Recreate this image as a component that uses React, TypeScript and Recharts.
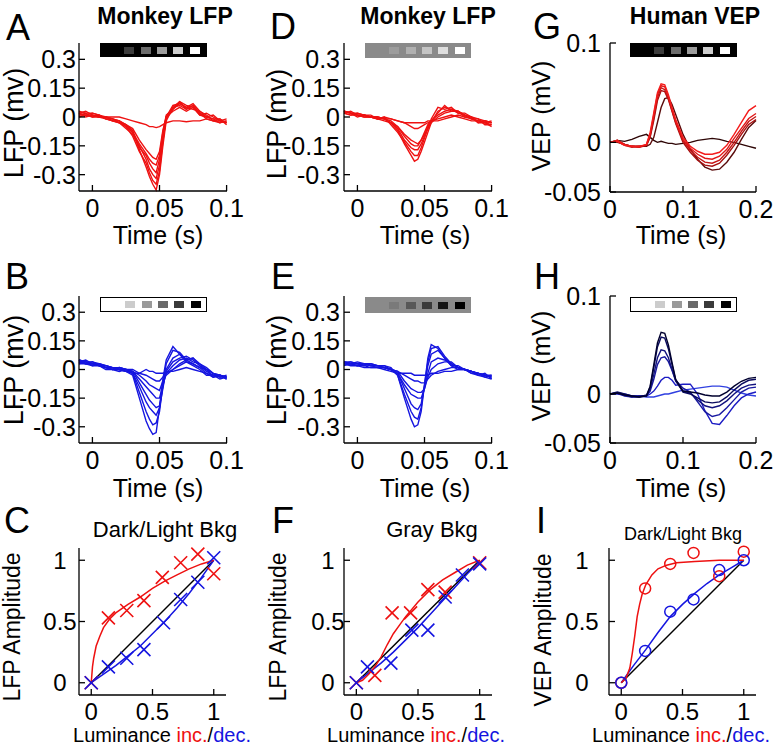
import React from 'react';
import { LineChart, ComposedChart, Line, Scatter, XAxis, YAxis } from 'recharts';

const FONT = '"Liberation Sans", Arial, Helvetica, sans-serif';

// ---------- LFP time base (s) ----------
const lfpTime = [-0.01, -0.005, 0, 0.005, 0.01, 0.015, 0.02, 0.025, 0.03, 0.035, 0.04, 0.0425, 0.045, 0.0475, 0.05, 0.0525, 0.055, 0.06, 0.065, 0.07, 0.075, 0.08, 0.085, 0.09, 0.095, 0.1];

// Panel A (red, dark/light bkg)
const a1 = [0.03, 0.02, 0.02, 0.01, 0.0, -0.01, -0.02, -0.04, -0.08, -0.17, -0.26, -0.31, -0.35, -0.38, -0.3, -0.15, -0.02, 0.05, 0.08, 0.04, 0.06, 0.02, 0.0, -0.01, -0.03, -0.02];
const a2 = [0.02, 0.03, 0.01, 0.0, 0.0, -0.01, -0.03, -0.05, -0.1, -0.18, -0.24, -0.29, -0.33, -0.35, -0.28, -0.13, 0.0, 0.06, 0.07, 0.05, 0.07, 0.03, 0.01, -0.02, -0.01, -0.03];
const a3 = [0.01, 0.01, 0.02, 0.01, -0.01, -0.02, -0.03, -0.06, -0.09, -0.15, -0.22, -0.27, -0.3, -0.32, -0.25, -0.12, -0.01, 0.04, 0.08, 0.06, 0.05, 0.01, 0.02, 0.0, -0.02, -0.01];
const a4 = [0.02, 0.0, 0.01, 0.0, 0.0, -0.02, -0.02, -0.04, -0.07, -0.16, -0.2, -0.24, -0.27, -0.29, -0.22, -0.1, 0.0, 0.05, 0.06, 0.04, 0.06, 0.02, -0.01, -0.02, -0.03, -0.02];
const a5 = [0.0, 0.01, 0.0, 0.01, -0.01, -0.01, -0.02, -0.05, -0.08, -0.14, -0.19, -0.22, -0.24, -0.25, -0.2, -0.08, 0.01, 0.04, 0.07, 0.05, 0.04, 0.03, 0.0, 0.01, -0.02, -0.03];
const a6 = [0.01, 0.02, 0.0, 0.0, -0.01, -0.02, -0.03, -0.04, -0.06, -0.12, -0.17, -0.19, -0.21, -0.22, -0.18, -0.07, 0.0, 0.03, 0.05, 0.03, 0.05, 0.01, 0.0, -0.01, -0.01, -0.04];
const a7 = [0.02, 0.01, 0.01, 0.0, 0.0, 0.0, 0.0, -0.01, -0.02, -0.03, -0.04, -0.05, -0.05, -0.055, -0.05, -0.04, -0.03, -0.02, -0.02, -0.025, -0.02, -0.02, -0.01, -0.02, -0.02, -0.03];

// Panel B (blue, dark/light bkg)
const b1 = [0.05, 0.04, 0.04, 0.03, 0.02, 0.01, 0.0, -0.01, -0.03, -0.15, -0.27, -0.31, -0.34, -0.33, -0.2, -0.05, 0.05, 0.12, 0.08, 0.04, 0.02, 0.0, -0.03, -0.03, -0.04, -0.04];
const b2 = [0.04, 0.05, 0.03, 0.03, 0.02, 0.01, 0.01, 0.0, -0.02, -0.12, -0.22, -0.26, -0.29, -0.28, -0.22, -0.08, 0.03, 0.1, 0.09, 0.05, 0.03, 0.01, -0.02, -0.04, -0.03, -0.05];
const b3 = [0.05, 0.03, 0.04, 0.02, 0.01, 0.0, 0.01, 0.0, -0.02, -0.09, -0.17, -0.2, -0.22, -0.24, -0.2, -0.1, 0.0, 0.06, 0.08, 0.05, 0.06, 0.02, -0.01, -0.03, -0.05, -0.04];
const b4 = [0.03, 0.04, 0.03, 0.02, 0.02, 0.01, 0.0, 0.0, -0.01, -0.07, -0.13, -0.16, -0.18, -0.2, -0.19, -0.09, -0.01, 0.04, 0.06, 0.07, 0.05, 0.02, 0.0, -0.02, -0.03, -0.05];
const b5 = [0.04, 0.03, 0.03, 0.02, 0.01, 0.01, 0.0, -0.01, -0.01, -0.05, -0.09, -0.11, -0.13, -0.15, -0.15, -0.08, -0.02, 0.02, 0.05, 0.06, 0.04, 0.03, 0.0, -0.04, -0.03, -0.04];
const b6 = [0.05, 0.04, 0.02, 0.03, 0.01, 0.0, 0.01, 0.0, -0.01, -0.03, -0.06, -0.08, -0.09, -0.1, -0.11, -0.06, -0.03, 0.0, 0.03, 0.05, 0.06, 0.03, 0.01, -0.02, -0.04, -0.03];
const b7 = [0.03, 0.03, 0.02, 0.02, 0.01, 0.0, 0.0, -0.01, -0.02, -0.02, -0.03, -0.04, -0.05, -0.06, -0.06, -0.04, -0.02, 0.0, 0.02, 0.04, 0.03, 0.01, 0.0, -0.02, -0.03, -0.04];
const b8 = [0.04, 0.03, 0.03, 0.02, 0.0, 0.0, -0.01, 0.0, 0.0, -0.02, 0.0, -0.01, -0.01, -0.02, -0.02, -0.02, -0.01, -0.01, 0.0, 0.01, 0.0, -0.01, -0.02, -0.03, -0.03, -0.04];

// Panel D (red, gray bkg)
const d1 = [0.03, 0.02, 0.02, 0.01, 0.0, 0.0, -0.01, -0.03, -0.07, -0.14, -0.2, -0.23, -0.22, -0.18, -0.13, -0.08, -0.03, 0.03, 0.05, 0.04, 0.03, 0.01, -0.01, -0.02, -0.03, -0.05];
const d2 = [0.02, 0.03, 0.01, 0.01, 0.01, -0.01, 0.0, -0.04, -0.08, -0.13, -0.18, -0.2, -0.2, -0.16, -0.11, -0.06, -0.01, 0.05, 0.04, 0.05, 0.02, 0.02, 0.0, -0.03, -0.02, -0.03];
const d3 = [0.03, 0.02, 0.01, 0.0, 0.0, 0.0, -0.01, -0.03, -0.06, -0.12, -0.16, -0.17, -0.17, -0.14, -0.1, -0.05, -0.02, 0.02, 0.06, 0.03, 0.03, 0.0, 0.0, -0.01, -0.04, -0.04];
const d4 = [0.02, 0.01, 0.02, 0.01, 0.0, -0.01, -0.01, -0.02, -0.05, -0.1, -0.14, -0.15, -0.15, -0.12, -0.08, -0.04, -0.02, 0.01, 0.03, 0.04, 0.02, 0.01, -0.01, -0.02, -0.02, -0.03];
const d5 = [0.03, 0.02, 0.0, 0.01, 0.0, -0.01, -0.02, -0.03, -0.05, -0.09, -0.12, -0.13, -0.14, -0.12, -0.09, -0.06, -0.03, 0.0, 0.02, 0.03, 0.03, 0.01, 0.0, -0.03, -0.03, -0.04];
const d6 = [0.02, 0.01, 0.01, 0.0, 0.0, 0.0, -0.01, -0.01, -0.02, -0.03, -0.03, -0.03, -0.03, -0.03, -0.03, -0.02, -0.02, -0.02, -0.01, 0.0, 0.01, 0.0, -0.01, -0.01, -0.02, -0.03];
const d7 = [0.03, 0.02, 0.01, 0.01, 0.0, -0.01, 0.0, -0.01, -0.02, -0.03, -0.05, -0.06, -0.06, -0.05, -0.04, -0.03, -0.02, -0.01, 0.0, 0.01, 0.0, -0.01, -0.02, -0.02, -0.03, -0.02];

// Panel E (blue, gray bkg)
const e1 = [0.04, 0.04, 0.03, 0.03, 0.03, 0.02, 0.02, 0.01, -0.03, -0.15, -0.26, -0.3, -0.29, -0.22, -0.08, 0.06, 0.13, 0.11, 0.06, 0.02, 0.0, 0.0, -0.01, -0.02, -0.03, -0.04];
const e2 = [0.04, 0.03, 0.04, 0.03, 0.02, 0.02, 0.02, 0.0, -0.03, -0.13, -0.22, -0.25, -0.26, -0.2, -0.08, 0.04, 0.11, 0.12, 0.07, 0.03, 0.01, 0.0, -0.02, -0.03, -0.02, -0.05];
const e3 = [0.03, 0.04, 0.03, 0.02, 0.03, 0.02, 0.01, 0.0, -0.02, -0.1, -0.18, -0.2, -0.21, -0.18, -0.09, 0.02, 0.08, 0.1, 0.06, 0.02, 0.02, 0.0, -0.01, -0.02, -0.03, -0.04];
const e4 = [0.04, 0.03, 0.03, 0.03, 0.02, 0.01, 0.01, 0.0, -0.02, -0.08, -0.13, -0.14, -0.15, -0.15, -0.1, -0.02, 0.04, 0.06, 0.05, 0.03, 0.01, 0.0, -0.01, -0.03, -0.04, -0.03];
const e5 = [0.03, 0.03, 0.02, 0.03, 0.02, 0.02, 0.01, 0.0, -0.01, -0.06, -0.1, -0.11, -0.12, -0.12, -0.1, -0.04, 0.0, 0.03, 0.04, 0.04, 0.01, 0.0, -0.01, -0.02, -0.04, -0.05];
const e6 = [0.02, 0.03, 0.02, 0.02, 0.01, 0.01, 0.01, 0.0, -0.01, -0.03, -0.05, -0.06, -0.06, -0.07, -0.07, -0.05, -0.03, -0.01, 0.0, 0.01, 0.01, 0.0, -0.02, -0.02, -0.03, -0.04];
const e7 = [0.03, 0.02, 0.02, 0.01, 0.01, 0.01, 0.0, -0.01, -0.02, -0.02, -0.02, -0.03, -0.03, -0.03, -0.03, -0.03, -0.02, -0.02, -0.01, -0.01, 0.0, 0.0, -0.01, -0.02, -0.03, -0.03];

// ---------- VEP time base (s) ----------
const vepTime = [0, 0.01, 0.02, 0.03, 0.04, 0.05, 0.055, 0.06, 0.065, 0.07, 0.075, 0.08, 0.085, 0.09, 0.1, 0.11, 0.12, 0.13, 0.14, 0.15, 0.16, 0.17, 0.18, 0.19, 0.2];

// Panel G (red shades)
const g1 = [0, 0.001, -0.003, -0.004, -0.004, -0.002, 0.01, 0.03, 0.05, 0.059, 0.058, 0.048, 0.035, 0.023, 0.005, -0.004, -0.009, -0.012, -0.012, -0.01, -0.003, 0.008, 0.02, 0.032, 0.037];
const g2 = [0, 0.002, -0.002, -0.004, -0.005, -0.002, 0.008, 0.028, 0.048, 0.057, 0.056, 0.046, 0.033, 0.021, 0.003, -0.006, -0.012, -0.016, -0.017, -0.014, -0.007, 0.004, 0.014, 0.024, 0.029];
const g3 = [0, 0.001, -0.003, -0.005, -0.004, -0.003, 0.006, 0.025, 0.045, 0.055, 0.053, 0.044, 0.032, 0.02, 0.002, -0.008, -0.015, -0.02, -0.021, -0.018, -0.01, 0.0, 0.011, 0.021, 0.026];
const g4 = [0, 0.002, -0.002, -0.004, -0.005, -0.003, 0.005, 0.022, 0.042, 0.052, 0.051, 0.043, 0.031, 0.019, 0.0, -0.01, -0.018, -0.023, -0.024, -0.021, -0.013, -0.003, 0.008, 0.018, 0.023];
const g5 = [0, 0.0, -0.002, -0.004, -0.004, -0.004, -0.002, 0.005, 0.02, 0.035, 0.044, 0.045, 0.038, 0.028, 0.008, -0.007, -0.017, -0.025, -0.028, -0.027, -0.02, -0.01, 0.003, 0.015, 0.022];
const g6 = [0, 0.002, 0.001, 0.003, 0.006, 0.008, 0.005, 0.002, 0.0, 0.001, 0.0, -0.001, -0.001, -0.002, -0.001, 0.0, 0.002, 0.003, 0.004, 0.003, 0.001, 0.0, -0.002, -0.004, -0.006];

// Panel H (blue shades)
const h1 = [0, 0.001, -0.001, -0.002, -0.003, -0.002, 0.008, 0.03, 0.052, 0.063, 0.062, 0.05, 0.032, 0.015, 0.003, 0.002, 0.001, -0.001, -0.002, -0.002, 0.002, 0.008, 0.013, 0.016, 0.017];
const h2 = [0, 0.002, 0.0, -0.002, -0.003, -0.001, 0.007, 0.027, 0.048, 0.058, 0.057, 0.046, 0.03, 0.014, 0.002, 0.0, -0.004, -0.008, -0.009, -0.008, -0.003, 0.004, 0.01, 0.014, 0.015];
const h3 = [0, 0.001, -0.001, -0.003, -0.002, -0.002, 0.005, 0.02, 0.037, 0.045, 0.044, 0.037, 0.025, 0.013, 0.003, 0.001, -0.006, -0.012, -0.014, -0.012, -0.007, 0.0, 0.006, 0.009, 0.01];
const h4 = [0, 0.001, -0.002, -0.003, -0.003, -0.002, 0.003, 0.015, 0.03, 0.037, 0.038, 0.033, 0.024, 0.014, 0.006, 0.002, -0.008, -0.018, -0.023, -0.021, -0.014, -0.006, 0.002, 0.006, 0.007];
const h5 = [0, 0.0, -0.001, -0.002, -0.002, -0.002, 0.0, 0.003, 0.008, 0.014, 0.017, 0.017, 0.014, 0.009, 0.01, 0.01, 0.0, -0.017, -0.03, -0.031, -0.022, -0.012, -0.004, 0.0, 0.002];
const h6 = [0, 0.001, 0.0, -0.002, -0.002, -0.003, -0.003, -0.003, -0.002, -0.001, 0.0, 0.0, 0.001, 0.002, 0.004, 0.005, 0.006, 0.007, 0.008, 0.008, 0.007, 0.004, 0.001, -0.001, -0.002];

const gColors = ['#f41c1c', '#e01818', '#c51414', '#a81010', '#5a0b0b', '#2e0606'];
const hColors = ['#00002e', '#0a0a5e', '#12127e', '#1818a0', '#1c1cc4', '#3040e0'];

// ---------- Amplitude vs luminance ----------
const cRedPts = [[0, 0], [0.14, 0.53], [0.29, 0.59], [0.43, 0.67], [0.58, 0.86], [0.73, 0.98], [0.87, 1.05], [1.0, 0.89]];
const cBluePts = [[0, 0], [0.14, 0.13], [0.29, 0.2], [0.43, 0.27], [0.59, 0.49], [0.73, 0.68], [0.87, 0.82], [1.0, 1.02]];
const cRedFit = [[0, 0], [0.01, 0.13], [0.02, 0.2], [0.04, 0.3], [0.07, 0.38], [0.1, 0.45], [0.15, 0.52], [0.2, 0.57], [0.3, 0.64], [0.4, 0.7], [0.5, 0.77], [0.6, 0.83], [0.7, 0.88], [0.8, 0.93], [0.9, 0.97], [1.0, 1.0]];
const cBlueFit = [[0, 0], [0.1, 0.07], [0.2, 0.14], [0.3, 0.22], [0.4, 0.3], [0.5, 0.4], [0.6, 0.5], [0.7, 0.61], [0.8, 0.73], [0.9, 0.86], [1.0, 1.0]];

const fRedPts = [[0, 0], [0.15, 0.06], [0.29, 0.57], [0.44, 0.57], [0.58, 0.76], [0.72, 0.74], [1.0, 0.98]];
const fBluePts = [[0, 0], [0.09, 0.13], [0.28, 0.16], [0.45, 0.43], [0.58, 0.43], [0.72, 0.7], [0.86, 0.88], [1.0, 0.97]];
const fRedFit = [[0, 0], [0.05, 0.02], [0.1, 0.07], [0.15, 0.13], [0.2, 0.21], [0.25, 0.31], [0.3, 0.4], [0.35, 0.47], [0.4, 0.54], [0.5, 0.66], [0.6, 0.76], [0.7, 0.84], [0.8, 0.9], [0.9, 0.96], [1.0, 1.0]];
const fBlueFit = [[0, 0], [0.1, 0.08], [0.2, 0.16], [0.3, 0.25], [0.4, 0.35], [0.5, 0.45], [0.6, 0.56], [0.7, 0.67], [0.8, 0.78], [0.9, 0.89], [1.0, 0.99]];

const iRedPts = [[0, 0], [0.195, 0.77], [0.4, 0.97], [0.59, 1.06], [0.8, 0.87], [1.0, 1.07]];
const iBluePts = [[0, 0], [0.195, 0.26], [0.4, 0.58], [0.59, 0.68], [0.8, 0.92], [1.0, 1.0]];
const iRedFit = [[0, 0], [0.04, 0.04], [0.07, 0.12], [0.09, 0.24], [0.11, 0.38], [0.13, 0.54], [0.15, 0.64], [0.17, 0.72], [0.2, 0.8], [0.25, 0.88], [0.3, 0.93], [0.37, 0.96], [0.45, 0.98], [0.6, 0.99], [0.8, 1.0], [1.0, 1.0]];
const iBlueFit = [[0, 0], [0.1, 0.14], [0.2, 0.27], [0.3, 0.41], [0.4, 0.54], [0.5, 0.64], [0.6, 0.73], [0.7, 0.81], [0.8, 0.88], [0.9, 0.94], [1.0, 1.0]];
const unity = [[0, 0], [1, 1]];

// ---------- axis ticks ----------
const lfpXTicks = [0, 0.05, 0.1];
const lfpYTicks = [-0.3, -0.15, 0, 0.15, 0.3];
const vepXTicks = [0, 0.1, 0.2];
const vepYTicks = [-0.05, 0, 0.1];
const ampTicks = [0, 0.5, 1];

// luminance key squares
const lumDarkUp = ['#000000', '#3c3c3c', '#6c6c6c', '#9c9c9c', '#cdcdcd', '#ffffff'];
const lumLightDown = ['#ffffff', '#cccccc', '#9a9a9a', '#6a6a6a', '#3a3a3a', '#000000'];
const lumGrayUp = ['#8a8a8a', '#9c9c9c', '#b0b0b0', '#c4c4c4', '#dedede', '#ffffff'];
const lumGrayDown = ['#8a8a8a', '#7a7a7a', '#585858', '#3a3a3a', '#151515', '#000000'];

const RED = '#ee1111';
const BLUE = '#1515e0';

const toRows = (xs: number[], series: number[][]) =>
  xs.map((x, i) => {
    const r: any = { x };
    series.forEach((s, k) => { r['s' + k] = s[i]; });
    return r;
  });
const toPts = (arr: number[][]) => arr.map(([x, y]) => ({ x, y }));

const YTick = (p: any) => (
  <text x={p.x + p.dx0} y={p.y} dy="0.355em" textAnchor={p.anchor} fontSize={p.fs} fontFamily={FONT} fill="#000">
    {String(p.payload.value)}
  </text>
);
const XTick = (p: any) => (
  <text x={p.x} y={p.y + 8} dy="0.71em" textAnchor="middle" fontSize={p.fs} fontFamily={FONT} fill="#000">
    {String(p.payload.value)}
  </text>
);

type FrameProps = {
  left: number; top: number; w: number; h: number;
  xDomain: [number, number]; yDomain: [number, number];
  xTicks: number[]; yTicks: number[];
  yAnchor: string; yDx: number; fs?: number;
  data?: any[]; composed?: boolean; children?: React.ReactNode;
};

function Frame(p: FrameProps) {
  const ML = 80, MT = 22, MR = 25, MB = 45;
  const fs = p.fs || 25;
  const Chart: any = p.composed ? ComposedChart : LineChart;
  const axisStyle = { stroke: '#000', strokeWidth: 1.3 };
  return (
    <div style={{ position: 'absolute', left: p.left - ML, top: p.top - MT }}>
      <Chart width={p.w + ML + MR} height={p.h + MT + MB} data={p.data} margin={{ top: MT, right: MR, bottom: 0, left: 0 }}>
        <XAxis dataKey="x" type="number" domain={p.xDomain} ticks={p.xTicks} interval={0}
          height={MB} axisLine={axisStyle} tickLine={axisStyle} tickSize={-6} tickMargin={6} tick={<XTick fs={fs} />} />
        <YAxis type="number" domain={p.yDomain} ticks={p.yTicks} interval={0}
          width={ML} axisLine={axisStyle} tickLine={axisStyle} tickSize={-6} tickMargin={6}
          tick={<YTick fs={fs} anchor={p.yAnchor} dx0={p.yDx} />} />
        {p.children}
      </Chart>
    </div>
  );
}

const T = ({ x, y, size, bold, rot, children, color }: any) => (
  <div style={{
    position: 'absolute', left: x, top: y, whiteSpace: 'nowrap', fontFamily: FONT, fontSize: size,
    fontWeight: bold ? 700 : 400, color: color || '#000', lineHeight: 1,
    transform: `translate(-50%,-50%)${rot ? ' rotate(-90deg)' : ''}`,
  }}>{children}</div>
);

const LumKey = ({ x, y, w, h, bg, border, squares }: any) => (
  <div style={{ position: 'absolute', left: x, top: y, width: w, height: h, background: bg, boxSizing: 'border-box', border: border ? '1.5px solid #000' : 'none' }}>
    {squares.map((c: string, k: number) => (
      <div key={k} style={{ position: 'absolute', left: 8 + 16.3 * k, top: h / 2 - 3.5 - (border ? 1.5 : 0), width: 10, height: 7, background: c }} />
    ))}
  </div>
);

const XMark = (color: string) => (props: any) => {
  const { cx, cy } = props;
  const s = 6.5;
  return <path d={`M${cx - s},${cy - s}L${cx + s},${cy + s}M${cx - s},${cy + s}L${cx + s},${cy - s}`} stroke={color} strokeWidth={1.6} fill="none" />;
};
const OMark = (color: string) => (props: any) => (
  <circle cx={props.cx} cy={props.cy} r={5.5} stroke={color} strokeWidth={1.5} fill="none" />
);

const traceLines = (n: number, colors: string[] | string, width = 1.4) =>
  Array.from({ length: n }, (_, k) => (
    <Line key={k} dataKey={'s' + k} type="linear" dot={false} isAnimationActive={false}
      stroke={Array.isArray(colors) ? colors[k] : colors} strokeWidth={width} />
  ));

const fitLine = (pts: number[][], color: string, key: string) => (
  <Line key={key} data={toPts(pts)} dataKey="y" type="linear" dot={false} isAnimationActive={false} stroke={color} strokeWidth={1.5} />
);
const scat = (pts: number[][], shape: any, key: string) => (
  <Scatter key={key} data={toPts(pts)} dataKey="y" shape={shape} isAnimationActive={false} />
);

export default function App() {
  const lfpX: [number, number] = [-0.0097, 0.1003];
  const lfpY: [number, number] = [-0.385, 0.385];
  const vepX: [number, number] = [0, 0.2];
  const vepY: [number, number] = [-0.05, 0.1];
  const ampD: [number, number] = [-0.1, 1.1];

  const rowsA = toRows(lfpTime, [a7, a6, a5, a4, a3, a2, a1]);
  const rowsB = toRows(lfpTime, [b8, b7, b6, b5, b4, b3, b2, b1]);
  const rowsD = toRows(lfpTime, [d6, d7, d5, d4, d3, d2, d1]);
  const rowsE = toRows(lfpTime, [e7, e6, e5, e4, e3, e2, e1]);
  const rowsG = toRows(vepTime, [g6, g5, g4, g3, g2, g1]);
  const rowsH = toRows(vepTime, [h6, h5, h4, h3, h2, h1]);

  return (
    <div style={{ position: 'absolute', left: 0, top: 0, width: 780, height: 751, background: '#fff', overflow: 'hidden' }}>
      {/* Row 1 */}
      <Frame left={79} top={43} w={148} h={148} xDomain={lfpX} yDomain={lfpY} xTicks={lfpXTicks} yTicks={lfpYTicks} yAnchor="end" yDx={-3} data={rowsA}>
        {traceLines(7, RED)}
      </Frame>
      <Frame left={344} top={43} w={148} h={148} xDomain={lfpX} yDomain={lfpY} xTicks={lfpXTicks} yTicks={lfpYTicks} yAnchor="end" yDx={-4} data={rowsD}>
        {traceLines(7, RED)}
      </Frame>
      <Frame left={610} top={43} w={146} h={149} xDomain={vepX} yDomain={vepY} xTicks={vepXTicks} yTicks={vepYTicks} yAnchor="end" yDx={-9} data={rowsG}>
        {traceLines(6, [...gColors].reverse())}
      </Frame>

      {/* Row 2 */}
      <Frame left={79} top={296} w={148} h={147} xDomain={lfpX} yDomain={lfpY} xTicks={lfpXTicks} yTicks={lfpYTicks} yAnchor="end" yDx={-3} data={rowsB}>
        {traceLines(8, BLUE)}
      </Frame>
      <Frame left={344} top={296} w={148} h={147} xDomain={lfpX} yDomain={lfpY} xTicks={lfpXTicks} yTicks={lfpYTicks} yAnchor="end" yDx={-4} data={rowsE}>
        {traceLines(7, BLUE)}
      </Frame>
      <Frame left={610} top={296} w={146} h={147} xDomain={vepX} yDomain={vepY} xTicks={vepXTicks} yTicks={vepYTicks} yAnchor="end" yDx={-9} data={rowsH}>
        {traceLines(6, [...hColors].reverse())}
      </Frame>

      {/* Row 3 */}
      <Frame left={79} top={548} w={147} h={147} xDomain={ampD} yDomain={ampD} xTicks={ampTicks} yTicks={ampTicks} yAnchor="middle" yDx={-19} fs={24} composed>
        {fitLine(unity, '#000', 'u')}
        {fitLine(cBlueFit, BLUE, 'bf')}
        {fitLine(cRedFit, RED, 'rf')}
        {scat(cRedPts, XMark(RED), 'rp')}
        {scat(cBluePts, XMark(BLUE), 'bp')}
      </Frame>
      <Frame left={344} top={548} w={148} h={147} xDomain={ampD} yDomain={ampD} xTicks={ampTicks} yTicks={ampTicks} yAnchor="middle" yDx={-16} fs={24} composed>
        {fitLine(unity, '#000', 'u')}
        {fitLine(fBlueFit, BLUE, 'bf')}
        {fitLine(fRedFit, RED, 'rf')}
        {scat(fRedPts, XMark(RED), 'rp')}
        {scat(fBluePts, XMark(BLUE), 'bp')}
      </Frame>
      <Frame left={609} top={548} w={147} h={147} xDomain={ampD} yDomain={ampD} xTicks={ampTicks} yTicks={ampTicks} yAnchor="middle" yDx={-27} fs={24} composed>
        {fitLine(unity, '#000', 'u')}
        {fitLine(iBlueFit, BLUE, 'bf')}
        {fitLine(iRedFit, RED, 'rf')}
        {scat(iRedPts, OMark(RED), 'rp')}
        {scat(iBluePts, OMark(BLUE), 'bp')}
      </Frame>

      {/* luminance keys */}
      <LumKey x={100} y={43} w={107} h={14} bg="#000" squares={lumDarkUp} />
      <LumKey x={365} y={43} w={106} h={15} bg="#8a8a8a" squares={lumGrayUp} />
      <LumKey x={630} y={43} w={107} h={14} bg="#000" squares={lumDarkUp} />
      <LumKey x={100} y={297} w={107} h={15} bg="#fff" border squares={lumLightDown} />
      <LumKey x={365} y={297} w={106} h={16} bg="#8a8a8a" squares={lumGrayDown} />
      <LumKey x={630} y={297} w={107} h={15} bg="#fff" border squares={lumLightDown} />

      {/* panel letters */}
      <T x={18} y={28} size={36}>A</T>
      <T x={283} y={27} size={36}>D</T>
      <T x={547} y={27} size={36}>G</T>
      <T x={17} y={277} size={36}>B</T>
      <T x={283} y={277} size={36}>E</T>
      <T x={547} y={277} size={36}>H</T>
      <T x={17} y={521} size={36}>C</T>
      <T x={283} y={521} size={36}>F</T>
      <T x={541} y={521} size={36}>I</T>

      {/* titles */}
      <T x={165} y={16} size={23} bold>Monkey LFP</T>
      <T x={428} y={16} size={23} bold>Monkey LFP</T>
      <T x={695} y={16} size={23} bold>Human VEP</T>
      <T x={165} y={530} size={22}>Dark/Light Bkg</T>
      <T x={432} y={530} size={22}>Gray Bkg</T>
      <T x={683} y={534} size={18}>Dark/Light Bkg</T>

      {/* axis titles */}
      <T x={14} y={123} size={27} rot>LFP (mv)</T>
      <T x={277} y={124} size={27} rot>LFP (mv)</T>
      <T x={541} y={116} size={25} rot>VEP (mV)</T>
      <T x={14} y={370} size={27} rot>LFP (mv)</T>
      <T x={277} y={370} size={27} rot>LFP (mv)</T>
      <T x={541} y={366} size={25} rot>VEP (mV)</T>
      <T x={12} y={627} size={23} rot>LFP Amplitude</T>
      <T x={278} y={627} size={23} rot>LFP Amplitude</T>
      <T x={543} y={630} size={23} rot>VEP Amplitude</T>

      <T x={158} y={235} size={25}>Time (s)</T>
      <T x={425} y={235} size={25}>Time (s)</T>
      <T x={681} y={235} size={25}>Time (s)</T>
      <T x={158} y={488} size={25}>Time (s)</T>
      <T x={425} y={488} size={25}>Time (s)</T>
      <T x={681} y={488} size={25}>Time (s)</T>

      {[162, 416, 681].map((cx, k) => (
        <T key={k} x={cx} y={735} size={20}>
          Luminance <span style={{ color: RED }}>inc.</span>/<span style={{ color: BLUE }}>dec.</span>
        </T>
      ))}
    </div>
  );
}
